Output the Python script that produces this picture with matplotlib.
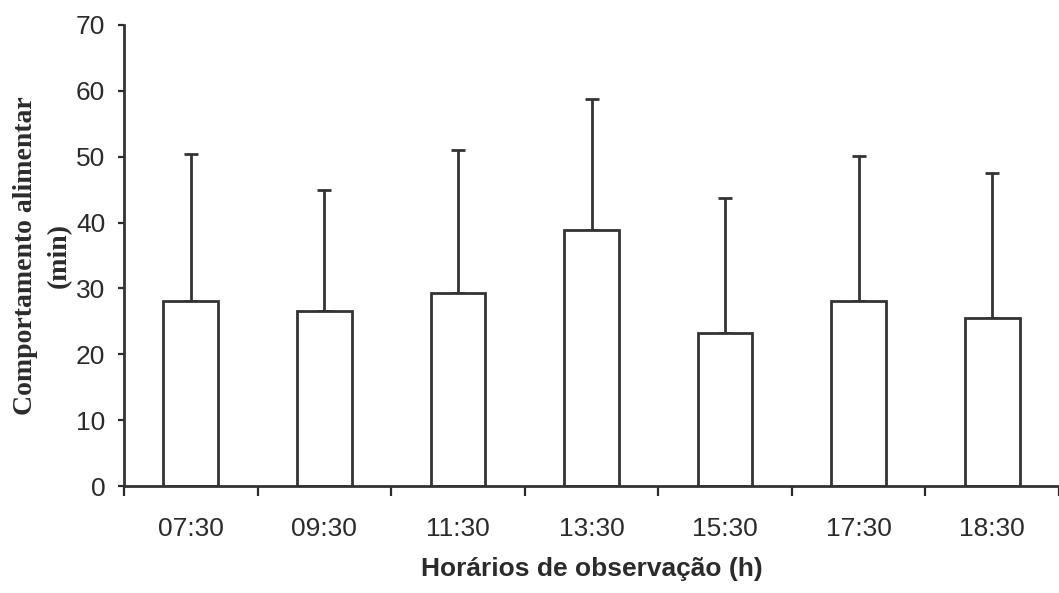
import matplotlib
matplotlib.use("Agg")
import matplotlib.pyplot as plt

# Feeding behaviour time (min) per observation time: mean and upper SD
horarios = ["07:30", "09:30", "11:30", "13:30", "15:30", "17:30", "18:30"]
media = [28.1, 26.6, 29.3, 38.9, 23.2, 28.1, 25.5]
desvio = [22.3, 18.3, 21.7, 19.8, 20.6, 22.0, 22.1]
yticks = [0, 10, 20, 30, 40, 50, 60, 70]

sans = ["Liberation Sans", "DejaVu Sans"]
serif = ["Liberation Serif", "DejaVu Serif"]
ink = "#2b2b2b"

fig = plt.figure(figsize=(10.59, 5.93), dpi=100)
ax = fig.add_axes([124 / 1059, 1 - 486 / 593, 1 - 124 / 1059, (486 - 25) / 593])

x = list(range(len(horarios)))
ax.bar(x, media, width=0.41, color="white", edgecolor="#333333", linewidth=2.0, zorder=2)
ax.errorbar(x, media, yerr=[[0] * len(desvio), desvio], fmt="none",
            ecolor="#333333", elinewidth=2.0, capsize=5, capthick=2.0, zorder=1)

ax.set_xlim(-0.5, 6.45)
ax.set_ylim(0, 70)
ax.set_yticks(yticks)
ax.set_yticklabels([str(v) for v in yticks], family=sans, fontsize=19, color=ink)
ax.set_xticks([i - 0.5 for i in range(len(horarios) + 1)])
ax.set_xticklabels([])
ax.set_xticks(x, minor=True)
ax.set_xticklabels(horarios, minor=True, family=sans, fontsize=19, color=ink)

ax.tick_params(axis="y", direction="out", length=4.5, width=1.6, pad=9, colors=ink)
ax.tick_params(axis="x", which="major", direction="out", length=7, width=1.6, colors=ink)
ax.tick_params(axis="x", which="minor", length=0, pad=22, colors=ink)

for side in ("top", "right"):
    ax.spines[side].set_visible(False)
for side in ("left", "bottom"):
    ax.spines[side].set_linewidth(2.0)
    ax.spines[side].set_color("#333333")

ax.set_xlabel("Horários de observação (h)", family=sans, fontsize=19,
              fontweight="bold", color=ink, labelpad=12)
ax.set_ylabel("Comportamento alimentar\n(min)", family=serif, fontsize=20,
              fontweight="bold", color=ink, labelpad=3, linespacing=1.45)

fig.savefig("out.png", dpi=100, facecolor="white")
